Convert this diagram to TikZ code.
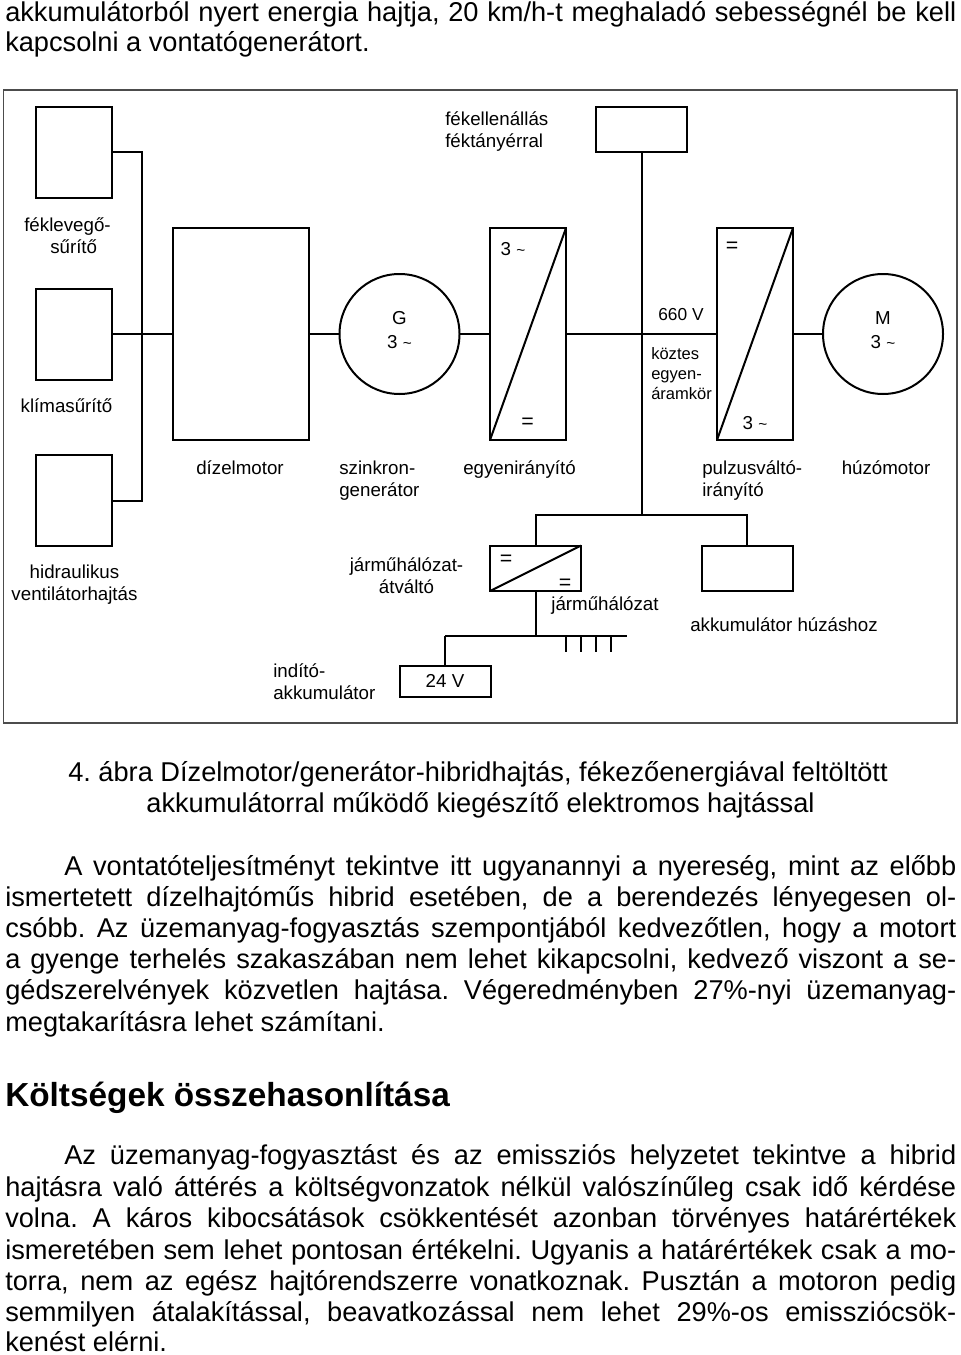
\documentclass[tikz,border=0pt]{standalone}
\usepackage{fontspec}
\setmainfont{Liberation Sans}
\usetikzlibrary{positioning}

\frenchspacing
\newcommand{\threeac}{3 {\fontsize{11.5}{11.5}\selectfont\textasciitilde}}
\newcommand{\fullline}[1]{\hbox to 713.25pt{#1}}
\newcommand{\indentline}[1]{\hbox to 669pt{#1}}

\tikzset{
    panel/.style 2 args={
        draw,
        line width=1.5pt,
        inner sep=0pt,
        outer sep=0pt,
        minimum width=#1*0.75pt,
        minimum height=#2*0.75pt
    },
    machine/.style={
        draw,
        circle,
        line width=1.5pt,
        inner sep=0pt,
        outer sep=0pt,
        minimum size=90pt
    },
    wire/.style={line width=1.5pt},
    tag/.style={
        inner sep=0pt,
        align=left,
        font=\fontsize{14.05}{16.5}\selectfont
    },
    smalltag/.style={
        inner sep=0pt,
        align=left,
        font=\fontsize{12.4}{15}\selectfont
    },
    sign/.style={
        inner sep=0pt,
        font=\fontsize{16}{16}\selectfont
    },
    bodyline/.style={
        anchor=base west,
        inner sep=0pt,
        font=\fontsize{20.4}{24}\selectfont
    }
}

\begin{document}
\begin{tikzpicture}[x=0.75pt,y=-0.75pt]
    \useasboundingbox (0,0) rectangle (960,1355);

    % text above the figure
    \node[bodyline] (topa) at (5,21.5) {\fullline{akkumulátorból nyert energia hajtja, 20 km/h-t meghaladó sebességnél be kell}};
    \node[bodyline] (topb) at (5,52) {kapcsolni a vontatógenerátort.};

    % frame
    \node[panel={953.5}{633},draw=black!70,line width=1pt] (frame) at (480.2,406.5) {};

    % auxiliary drives
    \node[panel={76}{91}] (feklevego) at (74,152.5) {};
    \node[panel={76}{91}] (klima) at (74,334) {};
    \node[panel={76}{91}] (hidraulika) at (74,500.5) {};
    \node[panel={91}{45}] (fekell) at (641.5,129.5) {};

    % main line
    \node[panel={136}{212}] (dizel) at (240.5,334) {};
    \node[machine] (gen) at (399.5,334) {};
    \node[panel={76}{212}] (egyen) at (528,334) {};
    \node[panel={76}{212}] (pulzus) at (755,334) {};
    \node[machine] (motor) at (883,334) {};

    % lower row
    \node[panel={91}{45.5}] (atalakito) at (535.5,568.3) {};
    \node[panel={91}{45.5}] (akku) at (747.3,568.3) {};
    \node[panel={91}{30.5},font=\fontsize{14.05}{16.5}\selectfont] (inditoakku) at (445,681.3) {24 V};

    \coordinate (busjoint) at (142,334);
    \coordinate (branchjoint) at (641.5,515.3);
    \coordinate (netjoint) at (535.5,636);
    \coordinate (netleft) at (445,636);
    \coordinate (netright) at (626.7,636);

    \draw[wire] (feklevego.east) -| (busjoint) |- (hidraulika.east);
    \draw[wire] (klima) -- (dizel);
    \draw[wire] (dizel) -- (gen);
    \draw[wire] (gen) -- (egyen);
    \draw[wire] (egyen) -- (pulzus);
    \draw[wire] (pulzus) -- (motor);
    \draw[wire] (fekell) -- (branchjoint);
    \draw[wire] (atalakito.north) |- (branchjoint) -| (akku.north);
    \draw[wire] (atalakito.south) -- (netjoint);
    \draw[wire] (netleft) -- (netright);
    \draw[wire] (netleft) -- (inditoakku.north);

    \draw[wire] (egyen.south west) -- (egyen.north east);
    \draw[wire] (pulzus.south west) -- (pulzus.north east);
    \draw[wire] (atalakito.south west) -- (atalakito.north east);

    % ticks of the vehicle network
    \foreach \x [count=\i] in {565.7,581,596,611} {
        \coordinate (ticktop\i) at (\x,636);
        \coordinate (tickend\i) at (\x,652);
        \draw[wire] (ticktop\i) -- (tickend\i);
    }

    % labels
    \node[tag,anchor=west] (fekelltag) at (445,132) {fékellenállás\\féktányérral};
    \node[tag,anchor=west] (feklevegotag) at (24,236) {féklevegő-\\\hspace*{19.5pt}sűrítő};
    \node[tag] (klimatag) at (66.5,406) {klímasűrítő};
    \node[tag,align=center] (hidraulikatag) at (74.5,585) {hidraulikus\\ventilátorhajtás};
    \node[tag] (dizeltag) at (240,468) {dízelmotor};
    \node[tag,anchor=west] (gentag) at (339,481) {szinkron-\\generátor};
    \node[tag] (egyentag) at (519.5,470) {egyenirányító};
    \node[tag,anchor=west] (pulzustag) at (702,481) {pulzusváltó-\\irányító};
    \node[tag] (motortag) at (886,468) {húzómotor};
    \node[tag,align=center] (atvaltotag) at (406.5,576) {járműhálózat-\\átváltó};
    \node[tag,anchor=west] (inditotag) at (273,682) {indító-\\akkumulátor};
    \node[tag] (halozattag) at (605,606) {járműhálózat};
    \node[tag] (akkutag) at (784,625) {akkumulátor húzáshoz};
    \node[smalltag,font=\fontsize{13}{15}\selectfont] (feszultseg) at (681,315) {660 V};
    \node[smalltag,anchor=west] (koztes) at (651,374) {köztes\\egyen-\\áramkör};

    \node[tag,align=center,font=\fontsize{14.05}{18}\selectfont] (gennev) at (399.5,330) {G\\\threeac};
    \node[tag,align=center,font=\fontsize{14.05}{18}\selectfont] (motornev) at (883,330) {M\\\threeac};
    \node[tag] (egyenac) at (513,249) {\threeac};
    \node[sign] (egyendc) at (527.7,423) {=};
    \node[sign] (pulzusdc) at (732,247) {=};
    \node[tag] (pulzusac) at (755,423) {\threeac};
    \node[sign] (atalakitoa) at (506,560) {=};
    \node[sign] (atalakitob) at (565,584) {=};

    % caption
    \node[bodyline,anchor=base] (caption) at (478,781) {4. ábra Dízelmotor/generátor-hibridhajtás, fékezőenergiával feltöltött};
    \node[bodyline,anchor=base] (captionb) at (480.5,812) {akkumulátorral működő kiegészítő elektromos hajtással};

    % first paragraph
    \node[bodyline] (para) at (64,875) {\indentline{A vontatóteljesítményt tekintve itt ugyanannyi a nyereség, mint az előbb}};
    \node[bodyline] (parb) at (5,906) {\fullline{ismertetett dízelhajtóműs hibrid esetében, de a berendezés lényegesen ol-}};
    \node[bodyline] (parc) at (5,937) {\fullline{csóbb. Az üzemanyag-fogyasztás szempontjából kedvezőtlen, hogy a motort}};
    \node[bodyline] (pard) at (5,968) {\fullline{a gyenge terhelés szakaszában nem lehet kikapcsolni, kedvező viszont a se-}};
    \node[bodyline] (pare) at (5,999) {\fullline{gédszerelvények közvetlen hajtása. Végeredményben 27\%-nyi üzemanyag-}};
    \node[bodyline] (parf) at (5,1031) {megtakarításra lehet számítani.};

    % heading
    \node[bodyline,font=\fontsize{25}{28}\selectfont\bfseries] (heading) at (5,1106.5) {Költségek összehasonlítása};

    % second paragraph
    \node[bodyline] (seca) at (64,1164) {\indentline{Az üzemanyag-fogyasztást és az emissziós helyzetet tekintve a hibrid}};
    \node[bodyline] (secb) at (5,1196) {\fullline{hajtásra való áttérés a költségvonzatok nélkül valószínűleg csak idő kérdése}};
    \node[bodyline] (secc) at (5,1227) {\fullline{volna. A káros kibocsátások csökkentését azonban törvényes határértékek}};
    \node[bodyline] (secd) at (5,1259) {\fullline{ismeretében sem lehet pontosan értékelni. Ugyanis a határértékek csak a mo-}};
    \node[bodyline] (sece) at (5,1290) {\fullline{torra, nem az egész hajtórendszerre vonatkoznak. Pusztán a motoron pedig}};
    \node[bodyline] (secf) at (5,1321) {\fullline{semmilyen átalakítással, beavatkozással nem lehet 29\%-os emissziócsök-}};
    \node[bodyline] (secg) at (5,1351.5) {kenést elérni.};
\end{tikzpicture}
\end{document}
